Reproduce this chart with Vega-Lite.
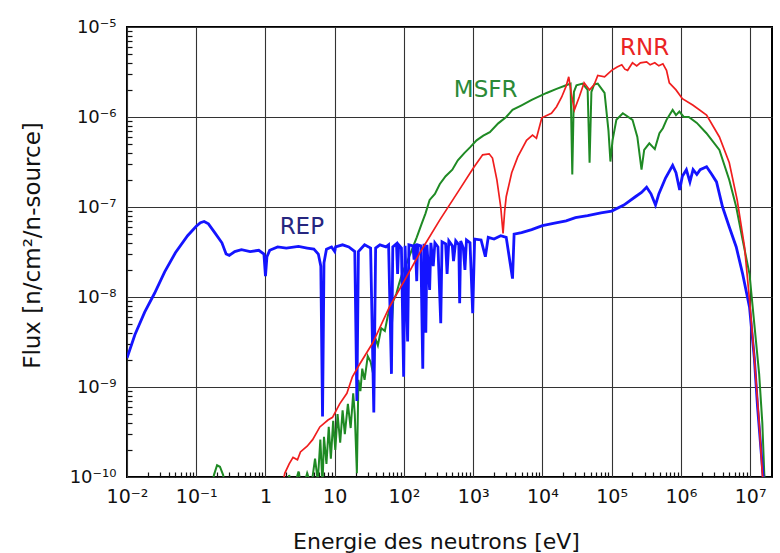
{
  "$schema": "https://vega.github.io/schema/vega-lite/v6.json",
  "width": 645,
  "height": 450,
  "autosize": {"type": "none"},
  "padding": {"left": 127, "top": 27, "right": 8, "bottom": 76},
  "background": "white",
  "config": {"view": {"stroke": "#000", "strokeWidth": 2}, "font": "DejaVu Sans"},
  "datasets": {
    "flux": [
      {"s":"REP","E":0.01,"F":2.1e-9},{"s":"REP","E":0.013,"F":3.8e-9},{"s":"REP","E":0.018,"F":6.8e-9},{"s":"REP","E":0.025,"F":1.1e-8},{"s":"REP","E":0.035,"F":1.9e-8},{"s":"REP","E":0.05,"F":3.1e-8},{"s":"REP","E":0.075,"F":4.8e-8},{"s":"REP","E":0.1,"F":6.1e-8},{"s":"REP","E":0.115,"F":6.7e-8},{"s":"REP","E":0.13,"F":6.9e-8},{"s":"REP","E":0.15,"F":6.5e-8},{"s":"REP","E":0.185,"F":5.2e-8},{"s":"REP","E":0.235,"F":4.0e-8},{"s":"REP","E":0.27,"F":3.0e-8},{"s":"REP","E":0.3,"F":2.9e-8},{"s":"REP","E":0.36,"F":3.2e-8},{"s":"REP","E":0.45,"F":3.35e-8},{"s":"REP","E":0.6,"F":3.2e-8},{"s":"REP","E":0.8,"F":3.3e-8},{"s":"REP","E":0.95,"F":3.0e-8},{"s":"REP","E":1.0,"F":1.7e-8},{"s":"REP","E":1.05,"F":2.8e-8},{"s":"REP","E":1.15,"F":3.3e-8},{"s":"REP","E":1.5,"F":3.6e-8},{"s":"REP","E":2,"F":3.5e-8},{"s":"REP","E":3,"F":3.65e-8},{"s":"REP","E":4,"F":3.5e-8},{"s":"REP","E":5,"F":3.4e-8},{"s":"REP","E":5.8,"F":3.0e-8},{"s":"REP","E":6.3,"F":2.2e-8},{"s":"REP","E":6.67,"F":4.7e-10},{"s":"REP","E":7.0,"F":2.4e-8},{"s":"REP","E":7.6,"F":3.4e-8},{"s":"REP","E":9,"F":3.6e-8},{"s":"REP","E":10,"F":3.2e-8},{"s":"REP","E":10.3,"F":3.6e-8},{"s":"REP","E":13,"F":3.8e-8},{"s":"REP","E":16,"F":3.6e-8},{"s":"REP","E":19.5,"F":3.2e-8},{"s":"REP","E":20.9,"F":7e-10},{"s":"REP","E":22,"F":3.2e-8},{"s":"REP","E":27,"F":3.8e-8},{"s":"REP","E":33,"F":3.5e-8},{"s":"REP","E":36.7,"F":5.2e-10},{"s":"REP","E":39,"F":3.5e-8},{"s":"REP","E":45,"F":3.8e-8},{"s":"REP","E":55,"F":3.6e-8},{"s":"REP","E":60,"F":3.8e-8},{"s":"REP","E":66,"F":1.4e-9},{"s":"REP","E":69,"F":3.6e-8},{"s":"REP","E":78,"F":3.9e-8},{"s":"REP","E":81,"F":1.8e-8},{"s":"REP","E":84,"F":3.8e-8},{"s":"REP","E":92,"F":3.5e-8},{"s":"REP","E":99,"F":1.3e-9},{"s":"REP","E":104,"F":3.7e-8},{"s":"REP","E":113,"F":3.2e-9},{"s":"REP","E":118,"F":3.8e-8},{"s":"REP","E":135,"F":3.7e-8},{"s":"REP","E":140,"F":2.6e-8},{"s":"REP","E":146,"F":3.9e-8},{"s":"REP","E":153,"F":1.5e-8},{"s":"REP","E":158,"F":3.8e-8},{"s":"REP","E":175,"F":3.7e-8},{"s":"REP","E":187,"F":1.6e-9},{"s":"REP","E":195,"F":3.9e-8},{"s":"REP","E":207,"F":4e-9},{"s":"REP","E":215,"F":3.8e-8},{"s":"REP","E":235,"F":1.2e-8},{"s":"REP","E":245,"F":4.0e-8},{"s":"REP","E":265,"F":2.2e-8},{"s":"REP","E":280,"F":4.0e-8},{"s":"REP","E":310,"F":3.6e-8},{"s":"REP","E":340,"F":5.1e-9},{"s":"REP","E":355,"F":4.1e-8},{"s":"REP","E":400,"F":3.9e-8},{"s":"REP","E":420,"F":1.8e-8},{"s":"REP","E":445,"F":4.2e-8},{"s":"REP","E":500,"F":3.7e-8},{"s":"REP","E":520,"F":2.5e-8},{"s":"REP","E":560,"F":4.2e-8},{"s":"REP","E":620,"F":3.8e-8},{"s":"REP","E":638,"F":8.5e-9},{"s":"REP","E":660,"F":4.2e-8},{"s":"REP","E":720,"F":3.5e-8},{"s":"REP","E":760,"F":2.0e-8},{"s":"REP","E":800,"F":4.3e-8},{"s":"REP","E":900,"F":4.0e-8},{"s":"REP","E":984,"F":6.6e-9},{"s":"REP","E":1050,"F":4.4e-8},{"s":"REP","E":1300,"F":4.3e-8},{"s":"REP","E":1500,"F":2.8e-8},{"s":"REP","E":1650,"F":4.6e-8},{"s":"REP","E":2000,"F":4.4e-8},{"s":"REP","E":2500,"F":4.8e-8},{"s":"REP","E":3000,"F":4.6e-8},{"s":"REP","E":3700,"F":1.6e-8},{"s":"REP","E":3900,"F":5.0e-8},{"s":"REP","E":5000,"F":5.2e-8},{"s":"REP","E":7000,"F":5.6e-8},{"s":"REP","E":10000,"F":6.2e-8},{"s":"REP","E":15000,"F":6.6e-8},{"s":"REP","E":22000,"F":7.0e-8},{"s":"REP","E":30000,"F":7.6e-8},{"s":"REP","E":45000,"F":8.0e-8},{"s":"REP","E":70000,"F":8.6e-8},{"s":"REP","E":100000,"F":9.0e-8},{"s":"REP","E":150000,"F":1.05e-7},{"s":"REP","E":220000,"F":1.3e-7},{"s":"REP","E":270000,"F":1.45e-7},{"s":"REP","E":320000,"F":1.66e-7},{"s":"REP","E":370000,"F":1.4e-7},{"s":"REP","E":430000,"F":1.05e-7},{"s":"REP","E":480000,"F":1.4e-7},{"s":"REP","E":600000,"F":2.1e-7},{"s":"REP","E":760000,"F":2.9e-7},{"s":"REP","E":850000,"F":2.4e-7},{"s":"REP","E":960000,"F":1.55e-7},{"s":"REP","E":1050000,"F":2.2e-7},{"s":"REP","E":1200000,"F":2.6e-7},{"s":"REP","E":1350000,"F":1.9e-7},{"s":"REP","E":1500000,"F":2.6e-7},{"s":"REP","E":1700000,"F":2.3e-7},{"s":"REP","E":1900000,"F":2.6e-7},{"s":"REP","E":2350000,"F":2.8e-7},{"s":"REP","E":2800000,"F":2.3e-7},{"s":"REP","E":3270000,"F":1.9e-7},{"s":"REP","E":4000000,"F":1.0e-7},{"s":"REP","E":5000000,"F":6e-8},{"s":"REP","E":6300000,"F":3.6e-8},{"s":"REP","E":7800000,"F":1.8e-8},{"s":"REP","E":9800000,"F":7.7e-9},{"s":"REP","E":11500000,"F":2.1e-9},{"s":"REP","E":12800000,"F":6e-10},{"s":"REP","E":14600000,"F":1.7e-10},{"s":"REP","E":16000000,"F":7e-11},
      {"s":"MSFR","E":0.16,"F":6e-11},{"s":"MSFR","E":0.18,"F":1.05e-10},{"s":"MSFR","E":0.2,"F":1.35e-10},{"s":"MSFR","E":0.22,"F":1.3e-10},{"s":"MSFR","E":0.245,"F":1.05e-10},{"s":"MSFR","E":0.27,"F":6e-11},{"s":"MSFR","E":1.8,"F":5e-11},{"s":"MSFR","E":2.2,"F":1.05e-10},{"s":"MSFR","E":2.5,"F":7e-11},{"s":"MSFR","E":3.0,"F":1.15e-10},{"s":"MSFR","E":3.4,"F":7e-11},{"s":"MSFR","E":4.0,"F":1.1e-10},{"s":"MSFR","E":4.6,"F":8e-11},{"s":"MSFR","E":5.2,"F":1.6e-10},{"s":"MSFR","E":5.7,"F":9e-11},{"s":"MSFR","E":6.2,"F":2.6e-10},{"s":"MSFR","E":6.67,"F":8e-11},{"s":"MSFR","E":7.0,"F":2.8e-10},{"s":"MSFR","E":7.6,"F":1.4e-10},{"s":"MSFR","E":8.2,"F":3.6e-10},{"s":"MSFR","E":8.8,"F":1.6e-10},{"s":"MSFR","E":9.5,"F":4.2e-10},{"s":"MSFR","E":10.2,"F":2e-10},{"s":"MSFR","E":11,"F":5e-10},{"s":"MSFR","E":12,"F":2.4e-10},{"s":"MSFR","E":13,"F":5.5e-10},{"s":"MSFR","E":14,"F":3e-10},{"s":"MSFR","E":15.5,"F":6.5e-10},{"s":"MSFR","E":17,"F":3.5e-10},{"s":"MSFR","E":18.5,"F":8.5e-10},{"s":"MSFR","E":19.5,"F":5e-10},{"s":"MSFR","E":20.9,"F":1.1e-10},{"s":"MSFR","E":22,"F":1.2e-9},{"s":"MSFR","E":23.5,"F":9e-10},{"s":"MSFR","E":25,"F":1.6e-9},{"s":"MSFR","E":27,"F":1.2e-9},{"s":"MSFR","E":30,"F":2.2e-9},{"s":"MSFR","E":33,"F":1.9e-9},{"s":"MSFR","E":36.7,"F":1.3e-9},{"s":"MSFR","E":38,"F":3.6e-9},{"s":"MSFR","E":42,"F":2.9e-9},{"s":"MSFR","E":47,"F":4.5e-9},{"s":"MSFR","E":53,"F":4.2e-9},{"s":"MSFR","E":58,"F":6e-9},{"s":"MSFR","E":63,"F":7.8e-9},{"s":"MSFR","E":66,"F":4e-9},{"s":"MSFR","E":70,"F":9e-9},{"s":"MSFR","E":78,"F":1.1e-8},{"s":"MSFR","E":85,"F":1.4e-8},{"s":"MSFR","E":96,"F":1.9e-8},{"s":"MSFR","E":110,"F":2.4e-8},{"s":"MSFR","E":125,"F":3.1e-8},{"s":"MSFR","E":153,"F":4.6e-8},{"s":"MSFR","E":180,"F":6.5e-8},{"s":"MSFR","E":205,"F":8.5e-8},{"s":"MSFR","E":235,"F":1.2e-7},{"s":"MSFR","E":280,"F":1.4e-7},{"s":"MSFR","E":330,"F":1.8e-7},{"s":"MSFR","E":400,"F":2.2e-7},{"s":"MSFR","E":500,"F":2.6e-7},{"s":"MSFR","E":600,"F":3.3e-7},{"s":"MSFR","E":750,"F":4.0e-7},{"s":"MSFR","E":900,"F":4.6e-7},{"s":"MSFR","E":1120,"F":5.5e-7},{"s":"MSFR","E":1400,"F":6.2e-7},{"s":"MSFR","E":1740,"F":6.8e-7},{"s":"MSFR","E":2300,"F":8.5e-7},{"s":"MSFR","E":3000,"F":1.0e-6},{"s":"MSFR","E":3700,"F":1.2e-6},{"s":"MSFR","E":5000,"F":1.35e-6},{"s":"MSFR","E":7000,"F":1.55e-6},{"s":"MSFR","E":11500,"F":1.85e-6},{"s":"MSFR","E":16000,"F":2.05e-6},{"s":"MSFR","E":22000,"F":2.25e-6},{"s":"MSFR","E":25500,"F":2.35e-6},{"s":"MSFR","E":27000,"F":2.3e-7},{"s":"MSFR","E":28500,"F":1.9e-6},{"s":"MSFR","E":31000,"F":2.25e-6},{"s":"MSFR","E":38000,"F":2.35e-6},{"s":"MSFR","E":45000,"F":2.0e-6},{"s":"MSFR","E":48000,"F":3.1e-7},{"s":"MSFR","E":51000,"F":1.9e-6},{"s":"MSFR","E":56000,"F":2.3e-6},{"s":"MSFR","E":63000,"F":2.35e-6},{"s":"MSFR","E":79000,"F":1.85e-6},{"s":"MSFR","E":90000,"F":7e-7},{"s":"MSFR","E":96000,"F":3.2e-7},{"s":"MSFR","E":103000,"F":5.5e-7},{"s":"MSFR","E":117000,"F":9.3e-7},{"s":"MSFR","E":145000,"F":1.1e-6},{"s":"MSFR","E":200000,"F":9.3e-7},{"s":"MSFR","E":235000,"F":6e-7},{"s":"MSFR","E":270000,"F":2.6e-7},{"s":"MSFR","E":295000,"F":4.3e-7},{"s":"MSFR","E":350000,"F":5.1e-7},{"s":"MSFR","E":420000,"F":4.4e-7},{"s":"MSFR","E":490000,"F":6.6e-7},{"s":"MSFR","E":550000,"F":7.5e-7},{"s":"MSFR","E":620000,"F":9.3e-7},{"s":"MSFR","E":760000,"F":1.2e-6},{"s":"MSFR","E":850000,"F":1.05e-6},{"s":"MSFR","E":950000,"F":1.15e-6},{"s":"MSFR","E":1100000,"F":1.0e-6},{"s":"MSFR","E":1300000,"F":1.0e-6},{"s":"MSFR","E":1700000,"F":8.6e-7},{"s":"MSFR","E":2340000,"F":6.6e-7},{"s":"MSFR","E":3600000,"F":4.3e-7},{"s":"MSFR","E":5000000,"F":2e-7},{"s":"MSFR","E":6300000,"F":1e-7},{"s":"MSFR","E":7800000,"F":4.3e-8},{"s":"MSFR","E":9800000,"F":1.8e-8},{"s":"MSFR","E":11500000,"F":5e-9},{"s":"MSFR","E":13500000,"F":1.4e-9},{"s":"MSFR","E":15000000,"F":4e-10},{"s":"MSFR","E":16000000,"F":1.1e-10},{"s":"MSFR","E":17000000,"F":6e-11},
      {"s":"RNR","E":1.7,"F":7e-11},{"s":"RNR","E":1.9,"F":1.1e-10},{"s":"RNR","E":2.2,"F":1.4e-10},{"s":"RNR","E":2.5,"F":1.65e-10},{"s":"RNR","E":2.9,"F":1.55e-10},{"s":"RNR","E":3.2,"F":1.9e-10},{"s":"RNR","E":4.0,"F":2.2e-10},{"s":"RNR","E":4.8,"F":2.6e-10},{"s":"RNR","E":6.1,"F":3.6e-10},{"s":"RNR","E":8,"F":4.3e-10},{"s":"RNR","E":9.3,"F":4.6e-10},{"s":"RNR","E":11.8,"F":6.5e-10},{"s":"RNR","E":15,"F":8.5e-10},{"s":"RNR","E":18,"F":1.3e-9},{"s":"RNR","E":23,"F":1.8e-9},{"s":"RNR","E":35.5,"F":3.1e-9},{"s":"RNR","E":62,"F":7.8e-9},{"s":"RNR","E":103,"F":1.55e-8},{"s":"RNR","E":170,"F":3.1e-8},{"s":"RNR","E":330,"F":7.2e-8},{"s":"RNR","E":630,"F":1.55e-7},{"s":"RNR","E":1000,"F":2.7e-7},{"s":"RNR","E":1370,"F":3.8e-7},{"s":"RNR","E":1700,"F":3.9e-7},{"s":"RNR","E":1900,"F":3.5e-7},{"s":"RNR","E":2200,"F":2.0e-7},{"s":"RNR","E":2500,"F":1.0e-7},{"s":"RNR","E":2700,"F":5.1e-8},{"s":"RNR","E":2850,"F":9e-8},{"s":"RNR","E":3000,"F":1.3e-7},{"s":"RNR","E":3600,"F":2.4e-7},{"s":"RNR","E":4400,"F":3.6e-7},{"s":"RNR","E":5900,"F":5.5e-7},{"s":"RNR","E":7200,"F":6.3e-7},{"s":"RNR","E":8200,"F":5.8e-7},{"s":"RNR","E":9800,"F":9.8e-7},{"s":"RNR","E":13500,"F":1.1e-6},{"s":"RNR","E":16000,"F":1.3e-6},{"s":"RNR","E":19000,"F":1.67e-6},{"s":"RNR","E":22000,"F":2.2e-6},{"s":"RNR","E":24000,"F":2.8e-6},{"s":"RNR","E":26000,"F":1.85e-6},{"s":"RNR","E":29000,"F":1.2e-6},{"s":"RNR","E":34000,"F":1.67e-6},{"s":"RNR","E":40000,"F":2.4e-6},{"s":"RNR","E":48000,"F":2.0e-6},{"s":"RNR","E":56000,"F":2.3e-6},{"s":"RNR","E":63000,"F":2.9e-6},{"s":"RNR","E":79000,"F":2.8e-6},{"s":"RNR","E":100000,"F":3.3e-6},{"s":"RNR","E":120000,"F":3.6e-6},{"s":"RNR","E":140000,"F":3.8e-6},{"s":"RNR","E":155000,"F":3.4e-6},{"s":"RNR","E":170000,"F":3.3e-6},{"s":"RNR","E":200000,"F":4.0e-6},{"s":"RNR","E":230000,"F":3.7e-6},{"s":"RNR","E":260000,"F":4.0e-6},{"s":"RNR","E":320000,"F":4.1e-6},{"s":"RNR","E":360000,"F":3.8e-6},{"s":"RNR","E":420000,"F":4.0e-6},{"s":"RNR","E":480000,"F":3.7e-6},{"s":"RNR","E":550000,"F":3.9e-6},{"s":"RNR","E":620000,"F":3.3e-6},{"s":"RNR","E":680000,"F":2.4e-6},{"s":"RNR","E":850000,"F":2.0e-6},{"s":"RNR","E":1050000,"F":1.6e-6},{"s":"RNR","E":1500000,"F":1.35e-6},{"s":"RNR","E":2350000,"F":1.05e-6},{"s":"RNR","E":3600000,"F":6e-7},{"s":"RNR","E":5000000,"F":3.1e-7},{"s":"RNR","E":6500000,"F":1.2e-7},{"s":"RNR","E":8300000,"F":3.6e-8},{"s":"RNR","E":9800000,"F":9.3e-9},{"s":"RNR","E":11500000,"F":2.1e-9},{"s":"RNR","E":13500000,"F":4e-10},{"s":"RNR","E":15000000,"F":1.1e-10},{"s":"RNR","E":16000000,"F":6e-11}
    ],
    "labels": [
      {"t":"REP","E":3.35,"F":6.0e-8},
      {"t":"MSFR","E":1514,"F":2.0e-6},
      {"t":"RNR","E":299000,"F":5.77e-6}
    ]
  },
  "data": {"name": "flux"},
  "encoding": {
    "x": {"field": "E", "type": "quantitative", "scale": {"type": "log", "domain": [0.01, 20700000], "nice": false}},
    "y": {"field": "F", "type": "quantitative", "scale": {"type": "log", "domain": [1e-10, 1e-5], "nice": false}}
  },
  "layer": [
    {
      "transform": [{"filter": "datum.s == 'MSFR'"}],
      "mark": {"type": "line", "color": "#1f8a24", "strokeWidth": 2, "clip": true},
      "encoding": {
        "x": {"field": "E", "type": "quantitative", "axis": {
          "orient": "bottom", "offset": -5,
          "values": [0.01,0.02,0.03,0.04,0.05,0.06,0.07,0.08,0.09,0.1,0.2,0.3,0.4,0.5,0.6,0.7,0.8,0.9,1,2,3,4,5,6,7,8,9,10,20,30,40,50,60,70,80,90,100,200,300,400,500,600,700,800,900,1000,2000,3000,4000,5000,6000,7000,8000,9000,10000,20000,30000,40000,50000,60000,70000,80000,90000,100000,200000,300000,400000,500000,600000,700000,800000,900000,1000000,2000000,3000000,4000000,5000000,6000000,7000000,8000000,9000000,10000000],
          "labelExpr": "abs(log(datum.value)/LN10 - round(log(datum.value)/LN10)) < 0.001 ? ['10⁻²','10⁻¹','1','10','10²','10³','10⁴','10⁵','10⁶','10⁷'][round(log(datum.value)/LN10)+2] : ''",
          "grid": true, "gridColor": "#333", "gridWidth": 1.1,
          "gridOpacity": {"condition": {"test": "abs(log(datum.value)/LN10 - round(log(datum.value)/LN10)) < 0.001", "value": 1}, "value": 0},
          "ticks": true, "tickSize": 5, "tickColor": "#111", "tickWidth": 1.2,
          "tickOpacity": {"condition": {"test": "abs(log(datum.value)/LN10 - round(log(datum.value)/LN10)) < 0.001", "value": 0}, "value": 1},
          "domain": false, "labelFontSize": 19, "labelColor": "#111", "labelPadding": 10,
          "labelFlush": false, "labelOverlap": false,
          "title": "Energie des neutrons [eV]", "titleFontSize": 22, "titleFontWeight": "normal", "titleColor": "#111",
          "titleX": 309, "titleY": 69, "titleAlign": "center", "titleBaseline": "middle"
        }},
        "y": {"field": "F", "type": "quantitative", "axis": {
          "orient": "left", "offset": -5,
          "values": [1e-10,2e-10,3e-10,4e-10,5e-10,6e-10,7e-10,8e-10,9e-10,1e-9,2e-9,3e-9,4e-9,5e-9,6e-9,7e-9,8e-9,9e-9,1e-8,2e-8,3e-8,4e-8,5e-8,6e-8,7e-8,8e-8,9e-8,1e-7,2e-7,3e-7,4e-7,5e-7,6e-7,7e-7,8e-7,9e-7,1e-6,2e-6,3e-6,4e-6,5e-6,6e-6,7e-6,8e-6,9e-6,1e-5],
          "labelExpr": "abs(log(datum.value)/LN10 - round(log(datum.value)/LN10)) < 0.001 ? ['10⁻¹⁰','10⁻⁹','10⁻⁸','10⁻⁷','10⁻⁶','10⁻⁵'][round(log(datum.value)/LN10)+10] : ''",
          "grid": true, "gridColor": "#333", "gridWidth": 1.1,
          "gridOpacity": {"condition": {"test": "abs(log(datum.value)/LN10 - round(log(datum.value)/LN10)) < 0.001", "value": 1}, "value": 0},
          "ticks": true, "tickSize": 5, "tickColor": "#111", "tickWidth": 1.2,
          "tickOpacity": {"condition": {"test": "abs(log(datum.value)/LN10 - round(log(datum.value)/LN10)) < 0.001", "value": 0}, "value": 1},
          "domain": false, "labelFontSize": 18, "labelColor": "#111", "labelPadding": 11,
          "labelFlush": false, "labelOverlap": false, "labelBaseline": "middle",
          "title": "Flux [n/cm²/n-source]", "titleFontSize": 23, "titleFontWeight": "normal", "titleColor": "#111",
          "titleX": -100, "titleY": 218, "titleAngle": -90, "titleAlign": "center", "titleBaseline": "middle"
        }}
      }
    },
    {
      "transform": [{"filter": "datum.s == 'REP'"}],
      "mark": {"type": "line", "color": "#1414ff", "strokeWidth": 2.8, "clip": true},
      "encoding": {
        "x": {"field": "E", "type": "quantitative", "axis": null},
        "y": {"field": "F", "type": "quantitative", "axis": null}
      }
    },
    {
      "transform": [{"filter": "datum.s == 'RNR'"}],
      "mark": {"type": "line", "color": "#f01e1e", "strokeWidth": 1.7, "clip": true},
      "encoding": {
        "x": {"field": "E", "type": "quantitative", "axis": null},
        "y": {"field": "F", "type": "quantitative", "axis": null}
      }
    },
    {
      "data": {"name": "labels"},
      "mark": {"type": "text", "fontSize": 23, "align": "center", "baseline": "middle"},
      "encoding": {
        "x": {"field": "E", "type": "quantitative", "axis": null},
        "y": {"field": "F", "type": "quantitative", "axis": null},
        "text": {"field": "t"},
        "color": {"field": "t", "type": "nominal", "legend": null,
          "scale": {"domain": ["REP", "MSFR", "RNR"], "range": ["#26267f", "#2b8a37", "#ea2424"]}}
      }
    }
  ],
  "resolve": {"axis": {"x": "independent", "y": "independent"}}
}
